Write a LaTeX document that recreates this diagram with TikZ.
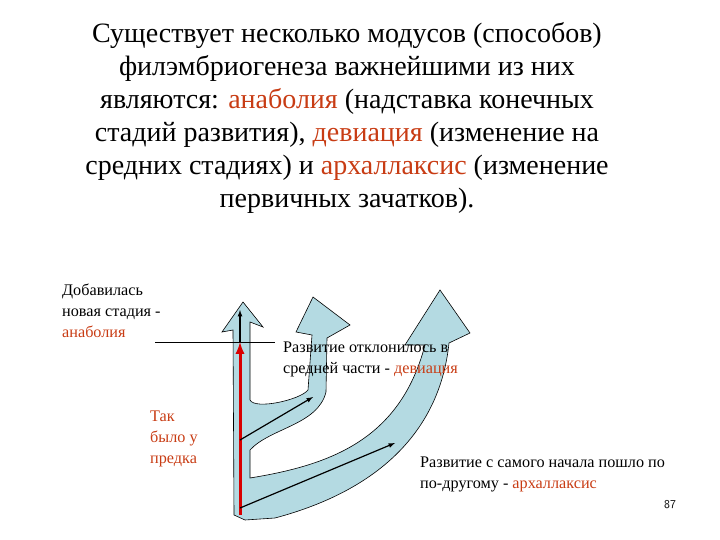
\documentclass[tikz,border=0pt]{standalone}
\usepackage{fontspec}
\setmainfont{Liberation Serif}
\newfontfamily\ser{Liberation Serif}
\begin{document}
\begin{tikzpicture}[x=1pt,y=-1pt,font=\ser]
\definecolor{hl}{RGB}{200,60,20}
\definecolor{blu}{RGB}{180,218,226}
\tikzset{title/.style={font=\ser\fontsize{28}{33}\selectfont,align=center},
 lab/.style={font=\ser\fontsize{16.2}{21}\selectfont,align=left,anchor=north west,inner sep=0},
 blk/.style={-latex,line width=1.2pt}}
\useasboundingbox (0,0) rectangle (720,540);
\node[title] (t) at (347,118) {Существует несколько модусов (способов)\\филэмбриогенеза важнейшими из них\\являются: \textcolor{hl}{анаболия} (надставка конечных\\стадий развития), \textcolor{hl}{девиация} (изменение на\\средних стадиях) и \textcolor{hl}{архаллаксис} (изменение\\первичных зачатков).};
\draw[fill=blu,line width=0.6pt] (234,515) -- (233,330) -- (222,332) -- (243,302) -- (263,327) -- (250,322)
 -- (250,400) .. controls (255,410) and (300,400) .. (308,390) -- (312,335) -- (296,332) -- (313,297)
 -- (350,325) -- (327,338) -- (326,392) .. controls (318,425) and (270,428) .. (250,450)
 -- (250,478) .. controls (330,465) and (400,440) .. (425,345) -- (405,345) -- (440,290)
 -- (470,333) -- (449,343) .. controls (440,430) and (380,490) .. (275,518) -- (245,520) -- cycle;
\draw (155,342) -- (275,342);
\coordinate (b0) at (240,515); \coordinate (b1) at (240,342); \coordinate (b2) at (240,310);
\coordinate (m0) at (240,440); \coordinate (m1) at (313,397);
\coordinate (r0) at (240,508); \coordinate (r1) at (395,443);
\draw[-latex,line width=3pt,red!85!black] (b0) -- (b1);
\draw[blk] (b1) -- (b2);
\draw[blk] (m0) -- (m1);
\draw[blk] (r0) -- (r1);
\node[lab] (a) at (62,284) {Добавилась\\новая стадия -\\\textcolor{hl}{анаболия}};
\node[lab] (b) at (283,342) {Развитие отклонилось в\\средней части - \textcolor{hl}{девиация}};
\node[lab,text=hl] (c) at (150,411) {Так\\было у\\предка};
\node[lab] (d) at (420,457) {Развитие с самого начала пошло по\\по-другому - \textcolor{hl}{архаллаксис}};
\node[font=\fontfamily{lmss}\selectfont\fontsize{12}{14}\selectfont] (n) at (670,505) {87};
\end{tikzpicture}
\end{document}
